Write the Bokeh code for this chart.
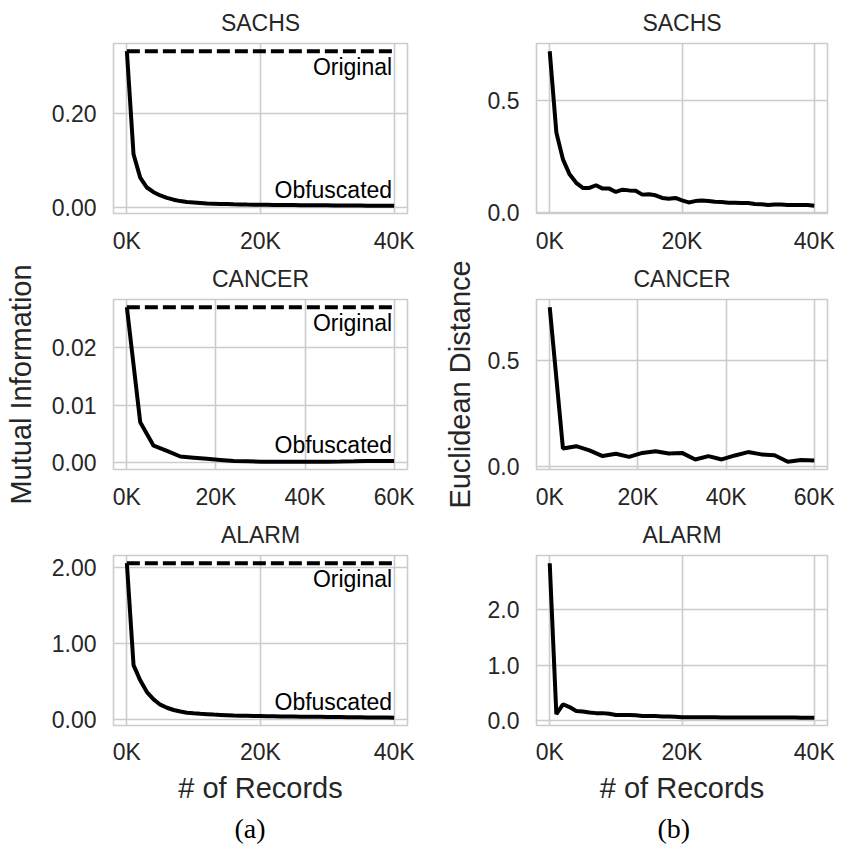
from bokeh.plotting import figure
from bokeh.layouts import column, row
from bokeh.models import Range1d, FixedTicker, Title
from bokeh.core.properties import value
from bokeh.embed import file_html
from bokeh.resources import INLINE

# ---------------- data (x in thousands of records) ----------------
records_40k = [0, 1, 2, 3, 4, 5, 6, 7, 8, 9, 10, 11, 12, 13, 14, 15, 16, 17, 18, 19, 20,
               21, 22, 23, 24, 25, 26, 27, 28, 29, 30, 31, 32, 33, 34, 35, 36, 37, 38, 39, 40]
records_60k = [0, 3, 6, 9, 12, 15, 18, 21, 24, 27, 30, 33, 36, 39, 42, 45, 48, 51, 54, 57, 60]

sachs_mi_original = 0.333
sachs_mi = [0.333, 0.113, 0.063, 0.042, 0.032, 0.025, 0.020, 0.016, 0.013, 0.011, 0.010,
            0.009, 0.008, 0.0075, 0.007, 0.0066, 0.0062, 0.0059, 0.0056, 0.0054, 0.0052,
            0.0050, 0.0048, 0.0046, 0.0045, 0.0044, 0.0043, 0.0042, 0.0041, 0.0040, 0.0039,
            0.0038, 0.0037, 0.0036, 0.0035, 0.0034, 0.0033, 0.0032, 0.0031, 0.0031, 0.0030]
sachs_ed = [0.721, 0.357, 0.236, 0.169, 0.131, 0.108, 0.108, 0.120, 0.105, 0.105, 0.090,
            0.100, 0.097, 0.095, 0.078, 0.080, 0.075, 0.063, 0.060, 0.063, 0.052,
            0.043, 0.049, 0.052, 0.049, 0.046, 0.045, 0.042, 0.042, 0.040, 0.040,
            0.036, 0.035, 0.031, 0.034, 0.034, 0.032, 0.032, 0.031, 0.031, 0.028]

cancer_mi_original = 0.0271
cancer_mi = [0.0271, 0.0070, 0.0029, 0.0020, 0.0010, 0.0008, 0.0006, 0.0004, 0.0002, 0.00015,
             0.0001, 0.0001, 0.00008, 0.00008, 0.0001, 0.0001, 0.00012, 0.00015, 0.0002,
             0.0002, 0.0002]
cancer_ed = [0.754, 0.084, 0.095, 0.075, 0.048, 0.059, 0.044, 0.063, 0.071, 0.060, 0.063,
             0.032, 0.048, 0.032, 0.051, 0.067, 0.056, 0.052, 0.021, 0.029, 0.027]

alarm_mi_original = 2.06
alarm_mi = [2.06, 0.72, 0.52, 0.366, 0.27, 0.20, 0.16, 0.13, 0.11, 0.095, 0.087,
            0.080, 0.075, 0.070, 0.066, 0.062, 0.058, 0.055, 0.053, 0.051, 0.050,
            0.048, 0.047, 0.046, 0.045, 0.044, 0.043, 0.042, 0.041, 0.040, 0.039,
            0.038, 0.037, 0.036, 0.035, 0.034, 0.033, 0.032, 0.031, 0.030, 0.028]
alarm_ed = [2.84, 0.11, 0.29, 0.24, 0.17, 0.16, 0.14, 0.13, 0.13, 0.12, 0.095,
            0.094, 0.094, 0.093, 0.078, 0.077, 0.076, 0.068, 0.067, 0.065, 0.056,
            0.056, 0.055, 0.055, 0.054, 0.054, 0.053, 0.053, 0.052, 0.052, 0.052,
            0.051, 0.051, 0.050, 0.050, 0.050, 0.049, 0.049, 0.048, 0.048, 0.046]

x_ticks_40k = [0, 20, 40]
x_labels_40k = ["0K", "20K", "40K"]
x_ticks_60k = [0, 20, 40, 60]
x_labels_60k = ["0K", "20K", "40K", "60K"]

sachs_mi_ticks = [0.0, 0.2]
sachs_mi_labels = ["0.00", "0.20"]
cancer_mi_ticks = [0.0, 0.01, 0.02]
cancer_mi_labels = ["0.00", "0.01", "0.02"]
alarm_mi_ticks = [0.0, 1.0, 2.0]
alarm_mi_labels = ["0.00", "1.00", "2.00"]
ed_ticks_small = [0.0, 0.5]
ed_labels_small = ["0.0", "0.5"]
alarm_ed_ticks = [0.0, 1.0, 2.0]
alarm_ed_labels = ["0.0", "1.0", "2.0"]

titles = ["SACHS", "CANCER", "ALARM"]

SANS = "Liberation Sans"
SERIF = "Liberation Serif"
TXT = "#262626"
GRID = "#cccccc"


def style_axis(ax, ticks, labels):
    t = FixedTicker(ticks=ticks)
    ax.ticker = t
    ax.major_label_overrides = {float(k): v for k, v in zip(ticks, labels)}
    ax.axis_line_color = None
    ax.major_tick_line_color = None
    ax.minor_tick_line_color = None
    ax.major_tick_out = 0
    ax.major_tick_in = 0
    ax.major_label_text_font = SANS
    ax.major_label_text_font_size = "23px"
    ax.major_label_text_color = TXT
    ax.axis_label_text_font = SANS
    ax.axis_label_text_font_size = "29px"
    ax.axis_label_text_font_style = "normal"
    ax.axis_label_text_color = TXT
    return t


def panel(title, xs, ys, orig, xt, xl, yt, yl, width, height, left, right, bottom,
          xlabel=None, ylabel=None, ylabel_standoff=10, sub=None, tick_standoff=14):
    xpad = 0.05 * (max(xs) - min(xs))
    lo = min(ys)
    hi = max(ys + ([orig] if orig is not None else []))
    ypad = 0.05 * (hi - lo)
    p = figure(width=width, height=height,
               x_range=Range1d(min(xs) - xpad, max(xs) + xpad),
               y_range=Range1d(lo - ypad, hi + ypad),
               output_backend="svg", toolbar_location=None,
               min_border_left=left, min_border_right=right,
               min_border_top=43, min_border_bottom=bottom)
    p.title.text = title
    p.title.align = "center"
    p.title.text_font = SANS
    p.title.text_font_size = "23px"
    p.title.text_font_style = "normal"
    p.title.text_color = TXT
    p.title.standoff = 15
    p.background_fill_color = "white"
    p.border_fill_color = "white"
    p.outline_line_color = GRID
    p.outline_line_width = 1.6

    tx = style_axis(p.xaxis[0], xt, xl)
    ty = style_axis(p.yaxis[0], yt, yl)
    p.xaxis.major_label_standoff = tick_standoff
    p.yaxis.major_label_standoff = 17
    p.xgrid.ticker = tx
    p.ygrid.ticker = ty
    for g in (p.xgrid, p.ygrid):
        g.grid_line_color = GRID
        g.grid_line_width = 1.6

    if xlabel:
        p.xaxis.axis_label = xlabel
        p.xaxis.axis_label_standoff = 4
    if ylabel:
        p.yaxis.axis_label = ylabel
        p.yaxis.axis_label_standoff = ylabel_standoff
    if sub:
        p.add_layout(Title(text=sub, align="left", offset=121, text_font=SERIF,
                           text_font_size="28px", text_font_style="normal",
                           text_color="black", standoff=8), "below")

    if orig is not None:
        p.line([xs[0], xs[-1]], [orig, orig], line_color="black", line_width=4,
               line_dash="13 5")
        p.text(x=[xs[-1]], y=[orig], text=["Original"], text_align="right",
               text_baseline="top", x_offset=-2, y_offset=3,
               text_font=value(SANS), text_font_size="23px", text_color="black")
        p.text(x=[xs[-1]], y=[ys[-1]], text=["Obfuscated"], text_align="right",
               text_baseline="bottom", x_offset=-2, y_offset=-3,
               text_font=value(SANS), text_font_size="23px", text_color="black")
    p.line(xs, ys, line_color="black", line_width=4)
    return p


LW, RW = 424, 416
L_LEFT, L_RIGHT = 113, 17
R_LEFT, R_RIGHT = 112, 13
H_TOP, H_BOT = 256, 335
B_TOP, B_BOT = 43, 122

p1 = panel(titles[0], records_40k, sachs_mi, sachs_mi_original, x_ticks_40k, x_labels_40k,
           sachs_mi_ticks, sachs_mi_labels, LW, H_TOP, L_LEFT, L_RIGHT, B_TOP)
p2 = panel(titles[0], records_40k, sachs_ed, None, x_ticks_40k, x_labels_40k,
           ed_ticks_small, ed_labels_small, RW, H_TOP, R_LEFT, R_RIGHT, B_TOP)
p3 = panel(titles[1], records_60k, cancer_mi, cancer_mi_original, x_ticks_60k, x_labels_60k,
           cancer_mi_ticks, cancer_mi_labels, LW, H_TOP, L_LEFT, L_RIGHT, B_TOP,
           ylabel="Mutual Information", ylabel_standoff=12)
p4 = panel(titles[1], records_60k, cancer_ed, None, x_ticks_60k, x_labels_60k,
           ed_ticks_small, ed_labels_small, RW, H_TOP, R_LEFT, R_RIGHT, B_TOP,
           ylabel="Euclidean Distance", ylabel_standoff=9)
p5 = panel(titles[2], records_40k, alarm_mi, alarm_mi_original, x_ticks_40k, x_labels_40k,
           alarm_mi_ticks, alarm_mi_labels, LW, H_BOT, L_LEFT, L_RIGHT, B_BOT,
           xlabel="# of Records", sub="(a)", tick_standoff=13)
p6 = panel(titles[2], records_40k, alarm_ed, None, x_ticks_40k, x_labels_40k,
           alarm_ed_ticks, alarm_ed_labels, RW, H_BOT, R_LEFT, R_RIGHT, B_BOT,
           xlabel="# of Records", sub="(b)", tick_standoff=13)

layout = column(row(p1, p2, spacing=0), row(p3, p4, spacing=0), row(p5, p6, spacing=0),
                spacing=0)

open("out.html", "w").write(file_html(layout, INLINE))
